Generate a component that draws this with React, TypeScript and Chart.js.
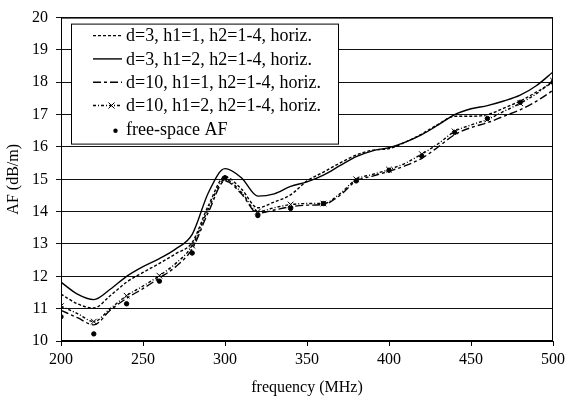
import React, { useEffect, useRef } from "react";
import { Chart, registerables } from "chart.js";

Chart.register(...registerables);

// Frequency grid for the smoothed curves (MHz)
const frequencies = [
  200, 210, 220, 230, 240, 250, 260, 270, 280, 290, 300, 310, 320, 330, 340, 350,
  360, 370, 380, 390, 400, 410, 420, 430, 440, 450, 460, 470, 480, 490, 500,
];

// Antenna factor (dB/m) per configuration
const afD3H1 = [
  11.45, 11.15, 11.02, 11.4, 11.82, 12.12, 12.4, 12.7, 13.05, 14.2, 15.08, 14.7, 14.12, 14.3, 14.52, 14.95,
  15.22, 15.5, 15.75, 15.9, 15.95, 16.15, 16.4, 16.7, 16.95, 16.95, 17.0, 17.2, 17.42, 17.7, 18.0,
];
const afD3H2 = [
  11.82, 11.45, 11.28, 11.6, 12.0, 12.3, 12.55, 12.85, 13.3, 14.6, 15.33, 15.05, 14.48, 14.55, 14.78, 14.92,
  15.13, 15.42, 15.7, 15.88, 15.98, 16.15, 16.38, 16.68, 17.0, 17.18, 17.28, 17.42, 17.6, 17.9, 18.32,
];
const afD10H1 = [
  10.95, 10.72, 10.5, 10.95, 11.32, 11.62, 11.95, 12.3, 12.85, 14.0, 14.95, 14.55, 13.95, 14.05, 14.15, 14.2,
  14.22, 14.5, 14.95, 15.1, 15.25, 15.42, 15.65, 16.0, 16.38, 16.6, 16.75, 16.95, 17.15, 17.42, 17.75,
];
const afD10H2 = [
  11.08, 10.85, 10.6, 11.0, 11.4, 11.7, 12.02, 12.4, 12.95, 14.1, 15.0, 14.6, 14.0, 14.12, 14.22, 14.25,
  14.25, 14.55, 15.0, 15.15, 15.3, 15.5, 15.78, 16.1, 16.48, 16.68, 16.85, 17.1, 17.35, 17.65, 18.05,
];

// Free-space antenna factor, sampled every 20 MHz
const freeSpaceFreq = [200, 220, 240, 260, 280, 300, 320, 340, 360, 380, 400, 420, 440, 460, 480, 500];
const freeSpaceAF = [
  10.75, 10.22, 11.15, 11.85, 12.72, 15.05, 13.88, 14.1, 14.25, 14.95, 15.28, 15.72, 16.45, 16.88, 17.38, 18.0,
];

const seriesLabels = [
  "d=3, h1=1, h2=1-4, horiz.",
  "d=3, h1=2, h2=1-4, horiz.",
  "d=10, h1=1, h2=1-4, horiz.",
  "d=10, h1=2, h2=1-4, horiz.",
  "free-space AF",
];

const SERIF = "'Liberation Serif', 'Times New Roman', serif";

const toPoints = (xs: number[], ys: number[]) => xs.map((x, i) => ({ x, y: ys[i] }));

// Closed frame around the plotting area
const frameBox = {
  id: "frameBox",
  afterDatasetsDraw(chart: any) {
    const { ctx, chartArea: a } = chart;
    ctx.save();
    ctx.strokeStyle = "#000";
    ctx.lineWidth = 1;
    ctx.strokeRect(a.left + 0.5, a.top + 0.5, a.right - a.left - 1, a.bottom - a.top - 1);
    ctx.restore();
  },
};

// Boxed legend placed inside the plot, top-left
const insetLegend = {
  id: "insetLegend",
  afterDatasetsDraw(chart: any) {
    const { ctx, chartArea: a } = chart;
    const left = a.left + 10;
    const top = a.top + 6;
    const w = 267;
    const h = 120;
    ctx.save();
    ctx.fillStyle = "#fff";
    ctx.fillRect(left, top, w, h);
    ctx.strokeStyle = "#000";
    ctx.lineWidth = 1;
    ctx.strokeRect(left + 0.5, top + 0.5, w, h);

    const sx0 = left + 22;
    const sx1 = left + 51;
    const tx = left + 55;
    chart.data.datasets.forEach((ds: any, i: number) => {
      const y = top + 12 + i * 23.3;
      ctx.strokeStyle = "#000";
      ctx.fillStyle = "#000";
      if (ds.showLine !== false) {
        ctx.lineWidth = ds.borderWidth || 1;
        ctx.setLineDash(ds.borderDash || []);
        ctx.beginPath();
        ctx.moveTo(sx0, y);
        ctx.lineTo(sx1, y);
        ctx.stroke();
        ctx.setLineDash([]);
      }
      const cx = (sx0 + sx1) / 2 + 4;
      if (ds.pointStyle === "crossRot") {
        ctx.lineWidth = 1;
        ctx.beginPath();
        ctx.moveTo(cx - 3, y - 3);
        ctx.lineTo(cx + 3, y + 3);
        ctx.moveTo(cx + 3, y - 3);
        ctx.lineTo(cx - 3, y + 3);
        ctx.stroke();
      } else if (ds.showLine === false) {
        ctx.beginPath();
        ctx.arc(cx + 4, y + 2, 2.2, 0, Math.PI * 2);
        ctx.fill();
      }
      ctx.font = `18px ${SERIF}`;
      ctx.textBaseline = "middle";
      ctx.textAlign = "left";
      ctx.fillText(ds.label, tx, y + 1);
    });
    ctx.restore();
  },
};

export default function App() {
  const ref = useRef<HTMLCanvasElement>(null);

  useEffect(() => {
    document.body.style.margin = "0";
    const canvas = ref.current;
    if (!canvas) return;

    const lineBase = {
      borderColor: "#000",
      backgroundColor: "#000",
      borderWidth: 1.4,
      pointRadius: 0,
      fill: false,
      cubicInterpolationMode: "monotone" as const,
    };

    const chart = new Chart(canvas, {
      type: "line",
      data: {
        datasets: [
          {
            ...lineBase,
            label: seriesLabels[0],
            data: toPoints(frequencies, afD3H1),
            borderDash: [3, 2],
          },
          {
            ...lineBase,
            label: seriesLabels[1],
            data: toPoints(frequencies, afD3H2),
          },
          {
            ...lineBase,
            label: seriesLabels[2],
            data: toPoints(frequencies, afD10H1),
            borderDash: [8, 3, 3, 3],
          },
          {
            ...lineBase,
            label: seriesLabels[3],
            data: toPoints(frequencies, afD10H2),
            borderDash: [3, 2, 1, 2],
            pointStyle: "crossRot",
            pointRadius: (c: any) => (c.dataIndex % 2 === 0 ? 4 : 0),
            pointBorderWidth: 1,
            pointBorderColor: "#000",
          },
          {
            label: seriesLabels[4],
            data: toPoints(freeSpaceFreq, freeSpaceAF),
            showLine: false,
            pointStyle: "circle",
            pointRadius: 2.2,
            pointBackgroundColor: "#000",
            pointBorderColor: "#000",
            borderColor: "#000",
            backgroundColor: "#000",
          },
        ],
      },
      options: {
        animation: false,
        responsive: false,
        maintainAspectRatio: false,
        layout: { padding: { top: 16, right: 14, left: 0, bottom: 0 } },
        plugins: {
          legend: { display: false },
          tooltip: { enabled: false },
        },
        scales: {
          x: {
            type: "linear",
            min: 200,
            max: 500,
            ticks: {
              stepSize: 50,
              color: "#000",
              font: { family: SERIF, size: 16 },
              padding: 4,
              maxRotation: 0,
            },
            grid: { drawOnChartArea: false, drawTicks: true, tickLength: 5, color: "#000" },
            border: { display: true, color: "#000", width: 1 },
            title: {
              display: true,
              text: "frequency (MHz)",
              color: "#000",
              font: { family: SERIF, size: 16 },
              padding: { top: 4, bottom: 4 },
            },
            afterFit: (s: any) => {
              s.height = 60;
            },
          },
          y: {
            type: "linear",
            min: 10,
            max: 20,
            ticks: {
              stepSize: 1,
              color: "#000",
              font: { family: SERIF, size: 16 },
              padding: 8,
            },
            grid: { color: "#111", lineWidth: 1, drawTicks: true, tickLength: 5 },
            border: { display: true, color: "#000", width: 1 },
            title: {
              display: true,
              text: "AF (dB/m)",
              color: "#000",
              font: { family: SERIF, size: 16 },
              padding: { top: 4, bottom: 4 },
            },
            afterFit: (s: any) => {
              s.width = 61;
            },
          },
        },
      },
      plugins: [frameBox, insetLegend],
    });

    return () => chart.destroy();
  }, []);

  return (
    <div style={{ width: 569, height: 401 }}>
      <canvas ref={ref} width={569} height={401} style={{ display: "block" }} />
    </div>
  );
}
